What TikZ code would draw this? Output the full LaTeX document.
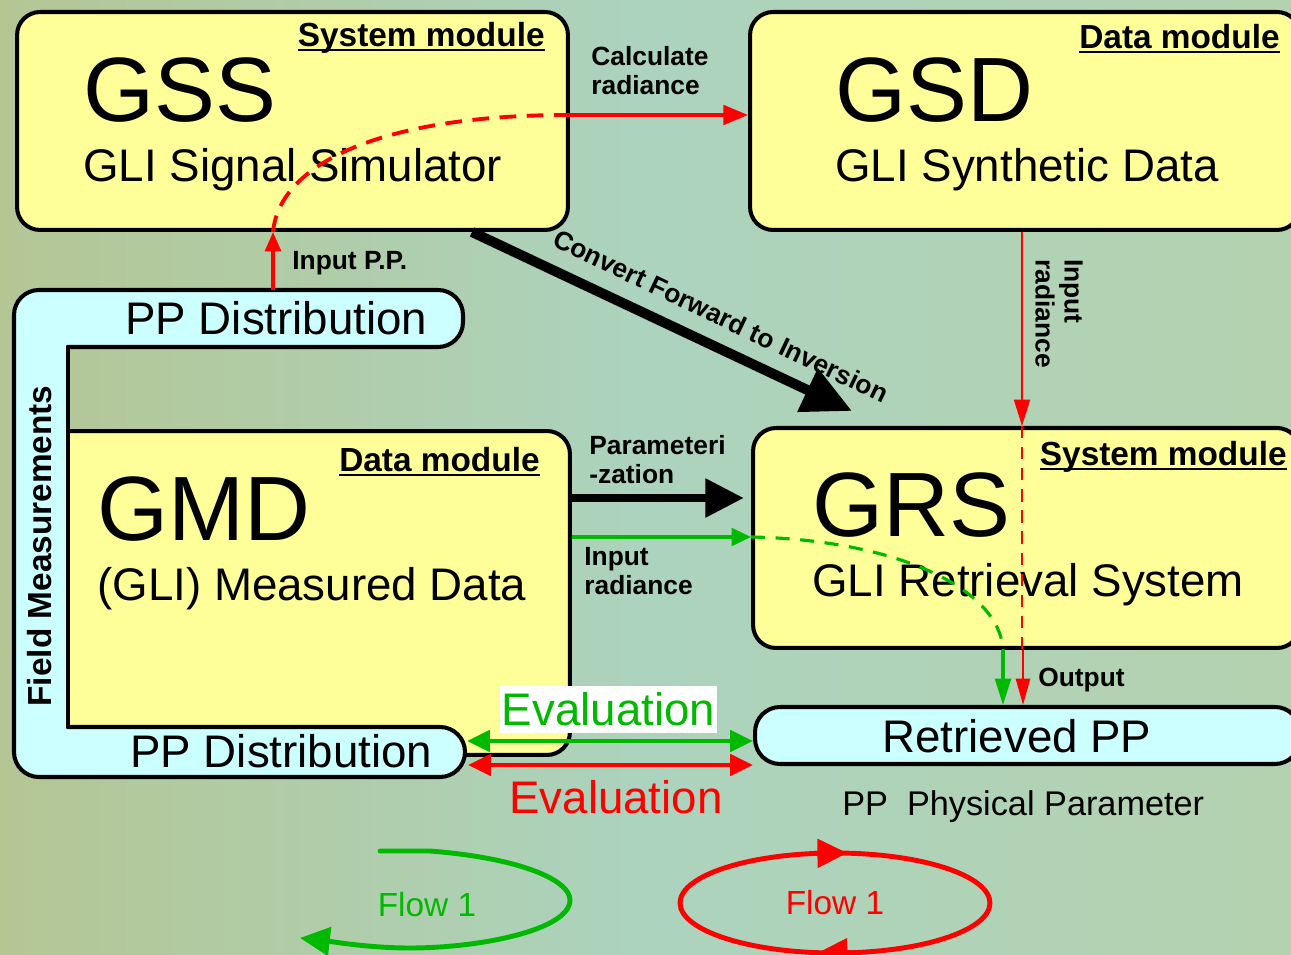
\documentclass[tikz,border=0pt]{standalone}
\usepackage{fontspec}
\setmainfont{Liberation Sans}
\usetikzlibrary{arrows.meta,shapes.geometric}
\definecolor{boxY}{RGB}{255,255,153}
\definecolor{boxC}{RGB}{204,255,255}
\definecolor{fgreen}{RGB}{0,185,0}
\definecolor{fred}{RGB}{255,0,0}
\definecolor{bgL}{RGB}{180,198,148}
\definecolor{bgM}{RGB}{172,211,190}
\definecolor{bgR}{RGB}{180,210,175}
\newcommand{\myfs}[1]{\fontsize{#1}{#1}\selectfont}
\newcommand{\myul}[1]{\setbox0\hbox{#1}\rlap{\rule[-2.4pt]{\wd0}{1.1pt}}\box0}
\begin{document}
\begin{tikzpicture}[x=0.02cm,y=-0.02cm,
  box/.style={draw, line width=2.3pt, rounded corners=0.46cm, fill=boxY, inner sep=0},
  big/.style={font=\myfs{52}, inner sep=0, anchor=base west},
  sub/.style={font=\myfs{26}, inner sep=0, anchor=base west},
  mod/.style={font=\bfseries\myfs{19}, inner sep=0, anchor=base east},
  lbl/.style={font=\bfseries\fontsize{15}{16.4}\selectfont, inner sep=0, align=left},
  redarr/.style={fred, line width=#1},
  grnarr/.style={fgreen, line width=#1}]
\clip (0,0) rectangle (1291,955);
\shade[left color=bgL, right color=bgR, middle color=bgM] (0,0) rectangle (1291,955);

% boxes
\node[box, minimum width=11.02cm, minimum height=4.36cm] (gss) at (292.5,121) {};
\node[box, minimum width=11cm, minimum height=4.36cm] (gsd) at (1025,121) {};
\node[box, minimum width=10.94cm, minimum height=4.4cm] (grs) at (1026.5,538) {};
\node[box, fill=boxC, rounded corners=0.5cm, minimum width=10.9cm, minimum height=1.14cm] (rpp) at (1027.5,735.5) {};
\node[box, minimum width=10.6cm, minimum height=6.48cm] (gmd) at (305,593) {};

% cyan field-measurement frame
\fill[boxC, rounded corners=0.5cm] (14,290) rectangle (463,347);
\fill[boxC, rounded corners=0.5cm] (14,290) rectangle (68,777);
\fill[boxC, rounded corners=0.5cm] (14,727) rectangle (465,777);
\draw[line width=2.3pt, rounded corners=0.5cm, line cap=round] (68,347) -- (463,347) -- (463,290) -- (14,290) -- (14,777) -- (465,777) -- (465,727) -- (68,727);
\draw[line width=2.3pt, line cap=round] (68,347) -- (68,727);

% texts in boxes
\node[big] (gssT) at (83,122) {GSS};
\node[sub] (gssS) at (83,182) {GLI Signal Simulator};
\node[mod] (gssM) at (545,47) {\myul{System module}};
\node[big] (gsdT) at (835,122) {GSD};
\node[sub] (gsdS) at (835,182) {GLI Synthetic Data};
\node[mod] (gsdM) at (1280,49) {\myul{Data module}};
\node[big] (gmdT) at (97,541) {GMD};
\node[sub] (gmdS) at (97,601) {(GLI) Measured Data};
\node[mod] (gmdM) at (540,472) {\myul{Data module}};
\node[big] (grsT) at (812,537) {GRS};
\node[sub] (grsS) at (812,597) {GLI Retrieval System};
\node[mod] (grsM) at (1287,466) {\myul{System module}};
\node[sub] (ppT) at (125,335) {PP Distribution};
\node[sub] (ppB) at (130,767) {PP Distribution};
\node[sub] (rppT) at (882,752) {Retrieved PP};
\node[font=\bfseries\myfs{19}, rotate=90, inner sep=0] (fm) at (40,546) {Field Measurements};
\node[anchor=base west, font=\myfs{19.5}, inner sep=0] (phys) at (842,815) {PP\ \ Physical Parameter};

% Input P.P. / Calculate radiance (red)
\coordinate (ippA) at (273,290);
\coordinate (rA) at (568,115);
\draw[redarr=2pt, -{Triangle[length=11pt,width=9pt]}] (ippA) -- (ippA |- gss.south);
\draw[redarr=2.2pt, dash pattern=on 9.5pt off 6pt] (ippA |- gss.south) .. controls (280,160) and (390,115) .. (rA);
\draw[redarr=2.3pt, -{Triangle[length=14pt,width=11pt]}] (rA) -- (rA -| gsd.west);
\node[lbl, anchor=north west] (calc) at (591,46) {Calculate\\radiance};
\node[lbl, anchor=base west] (ipp) at (292,270) {Input P.P.};

% Convert forward to inversion
\coordinate (cvA) at (472,232);
\coordinate (cvB) at (852,411);
\draw[line width=5.7pt, -{Triangle[length=28pt,width=26pt]}] (cvA) -- (cvB);
\node[lbl, rotate=-25.5] (cvL) at (721,316) {Convert Forward to Inversion};

% Input radiance (red, vertical)
\draw[redarr=1.4pt, -{Triangle[length=15pt,width=9pt]}] (gsd.south -| 1022,0) -- (grs.north -| 1022,0);
\draw[redarr=1.4pt, dash pattern=on 7pt off 5pt] (grs.north -| 1022,0) -- (grs.south -| 1022,0);
\draw[redarr=1.4pt, -{Triangle[length=15pt,width=8pt]}] (grs.south -| 1023,0) -- (rpp.north -| 1023,0);
\node[lbl, rotate=-90, anchor=north west] (irL) at (1083,259) {Input\\radiance};

% Parameterization
\draw[line width=5pt, -{Triangle[length=22pt,width=21pt]}, shorten >=4pt] (gmd.east |- 0,498) -- (grs.west |- 0,498);
\node[lbl, anchor=north west] (parL) at (589,435) {Parameteri\\-zation};

% Input radiance (green)
\draw[grnarr=1.8pt, -{Triangle[length=11pt,width=10pt]}] (gmd.east |- 0,537) -- (grs.west |- 0,537);
\draw[grnarr=1.8pt, dash pattern=on 8pt off 6pt] (grs.west |- 0,537) .. controls (900,540) and (1000,590) .. (grs.south -| 1003,0);
\draw[grnarr=1.8pt, -{Triangle[length=15pt,width=9pt]}] (grs.south -| 1003,0) -- (rpp.north -| 1003,0);
\node[lbl, anchor=north west] (irL2) at (584,547) {Input\\radiance};
\node[lbl, anchor=base west] (out) at (1038,686) {Output};

% Evaluation
\coordinate (evG) at (467,741);
\coordinate (evR) at (468,765);
\draw[grnarr=2.5pt, {Triangle[length=13pt,width=12pt]}-{Triangle[length=13pt,width=12pt]}] (evG) -- (rpp.west |- evG);
\draw[redarr=2.5pt, {Triangle[length=13pt,width=12pt]}-{Triangle[length=13pt,width=12pt]}] (evR) -- (rpp.west |- evR);
\node[fill=white, text=fgreen, font=\myfs{26}, inner sep=0, minimum width=4.34cm, minimum height=0.94cm] (evGL) at (608.5,709.5) {Evaluation};
\node[text=fred, font=\myfs{26}, inner sep=0] (evRL) at (616,797) {Evaluation};

% Flow legends
\coordinate (fgA) at (380,851);
\coordinate (fgB) at (300,938);
\draw[grnarr=2.8pt, line cap=round, -{Triangle[length=17pt,width=16pt]}] (fgA) -- (430,851) .. controls (520,858) and (570,880) .. (570,900) .. controls (570,930) and (480,948) .. (410,948) .. controls (370,948) and (335,942) .. (fgB);
\node[text=fgreen, font=\myfs{19}, inner sep=0] (fl1) at (427,905) {Flow 1};
\node[ellipse, draw=fred, line width=2.8pt, minimum width=6.2cm, minimum height=2cm, text=fred, font=\myfs{19}, inner sep=0] (fl2) at (835,903) {Flow 1};
\draw[redarr=2.8pt, -{Triangle[length=17pt,width=16pt]}] ([xshift=-12pt,yshift=-1.6pt]fl2.north) -- ([xshift=7pt,yshift=-1.4pt]fl2.north);
\draw[redarr=2.8pt, -{Triangle[length=17pt,width=16pt]}] ([xshift=9pt,yshift=1.6pt]fl2.south) -- ([xshift=-10pt,yshift=1.4pt]fl2.south);
\end{tikzpicture}
\end{document}
